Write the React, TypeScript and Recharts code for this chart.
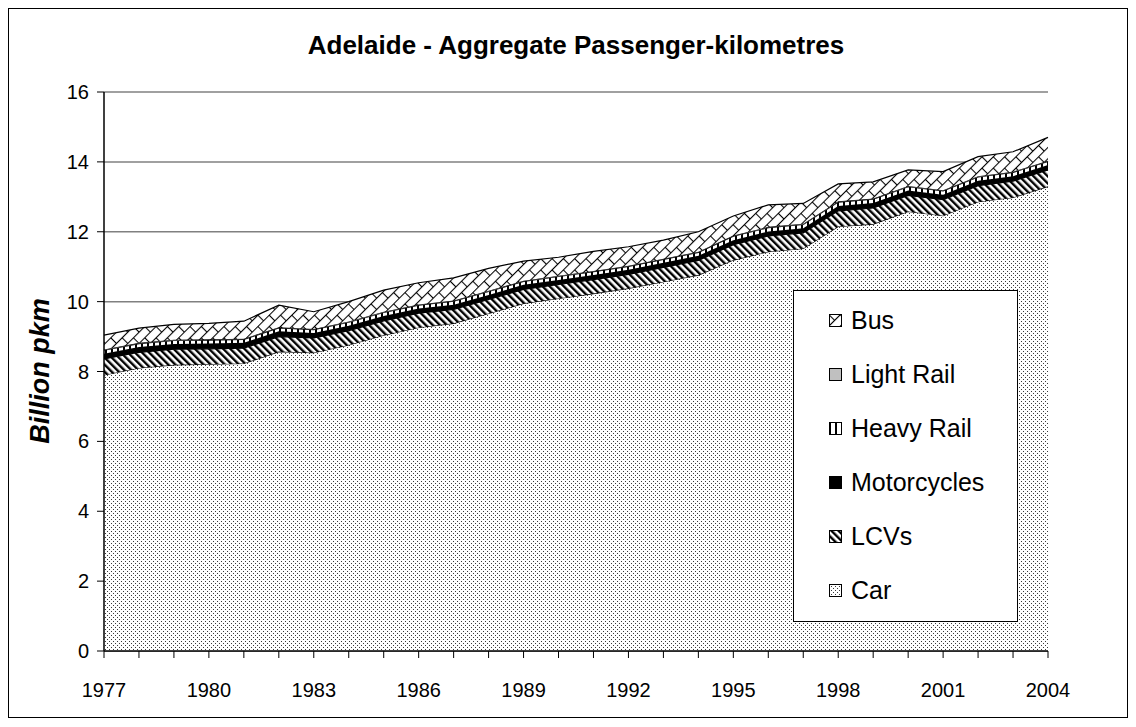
import { Area, AreaChart, CartesianGrid, XAxis, YAxis } from "recharts";

const years = [
  1977, 1978, 1979, 1980, 1981, 1982, 1983, 1984, 1985, 1986, 1987, 1988, 1989, 1990,
  1991, 1992, 1993, 1994, 1995, 1996, 1997, 1998, 1999, 2000, 2001, 2002, 2003, 2004
];
const car = [
  7.9, 8.1, 8.19, 8.21, 8.23, 8.57, 8.54, 8.76, 9.04, 9.26, 9.38, 9.66, 9.95, 10.09,
  10.23, 10.38, 10.57, 10.76, 11.19, 11.43, 11.52, 12.15, 12.22, 12.58, 12.46, 12.86, 12.98, 13.3
];
const lcvs = [
  0.46, 0.45, 0.45, 0.44, 0.44, 0.43, 0.42, 0.41, 0.41, 0.41, 0.4, 0.4, 0.4, 0.4,
  0.4, 0.4, 0.41, 0.42, 0.44, 0.45, 0.45, 0.45, 0.46, 0.46, 0.46, 0.46, 0.47, 0.47
];
const motorcycles = [
  0.15, 0.15, 0.15, 0.15, 0.15, 0.15, 0.14, 0.14, 0.14, 0.13, 0.13, 0.13, 0.13, 0.13,
  0.13, 0.13, 0.13, 0.13, 0.13, 0.13, 0.13, 0.14, 0.14, 0.14, 0.14, 0.14, 0.14, 0.14
];
const heavyRail = [
  0.1, 0.1, 0.1, 0.1, 0.1, 0.1, 0.1, 0.1, 0.1, 0.1, 0.1, 0.1, 0.1, 0.1,
  0.1, 0.1, 0.1, 0.1, 0.11, 0.11, 0.11, 0.11, 0.11, 0.11, 0.11, 0.11, 0.11, 0.1
];
const lightRail = [
  0.02, 0.02, 0.02, 0.02, 0.02, 0.02, 0.02, 0.02, 0.02, 0.02, 0.02, 0.02, 0.02, 0.02,
  0.02, 0.02, 0.02, 0.02, 0.02, 0.02, 0.02, 0.02, 0.02, 0.02, 0.02, 0.02, 0.02, 0.02
];
const bus = [
  0.41, 0.42, 0.44, 0.46, 0.5, 0.63, 0.49, 0.57, 0.62, 0.62, 0.65, 0.64, 0.56, 0.53,
  0.56, 0.54, 0.53, 0.57, 0.56, 0.63, 0.58, 0.5, 0.48, 0.46, 0.53, 0.56, 0.57, 0.67
];

const labelYears = [1977, 1980, 1983, 1986, 1989, 1992, 1995, 1998, 2001, 2004];
const yTicks = [0, 2, 4, 6, 8, 10, 12, 14, 16];

const data = years.map((year, i) => ({
  year,
  car: car[i],
  lcvs: lcvs[i],
  motorcycles: motorcycles[i],
  heavyRail: heavyRail[i],
  lightRail: lightRail[i],
  bus: bus[i]
}));

// bottom to top
const series = [
  { key: "car", name: "Car", fill: "url(#pCar)" },
  { key: "lcvs", name: "LCVs", fill: "url(#pLcv)" },
  { key: "motorcycles", name: "Motorcycles", fill: "#000" },
  { key: "heavyRail", name: "Heavy Rail", fill: "url(#pHeavy)" },
  { key: "lightRail", name: "Light Rail", fill: "#c0c0c0" },
  { key: "bus", name: "Bus", fill: "url(#pBus)" }
];

const font = '"Liberation Sans", Arial, sans-serif';

function Patterns() {
  return (
    <defs>
      <pattern id="pCar" width="4" height="4" patternUnits="userSpaceOnUse">
        <rect width="4" height="4" fill="#fff" />
        <rect x="0" y="0" width="1" height="1" fill="#3a3a3a" />
        <rect x="2" y="2" width="1" height="1" fill="#3a3a3a" />
      </pattern>
      <pattern id="pLcv" width="5" height="5" patternUnits="userSpaceOnUse" patternTransform="rotate(-45)">
        <rect width="5" height="5" fill="#fff" />
        <rect x="0" y="0" width="2.4" height="5" fill="#000" />
      </pattern>
      <pattern id="pHeavy" width="6" height="6" patternUnits="userSpaceOnUse">
        <rect width="6" height="6" fill="#fff" />
        <rect x="0" y="0" width="2" height="6" fill="#000" />
      </pattern>
      <pattern id="pBus" width="16" height="16" patternUnits="userSpaceOnUse" patternTransform="rotate(45)">
        <rect width="16" height="16" fill="#fff" />
        <line x1="0.5" y1="0" x2="0.5" y2="16" stroke="#000" strokeWidth="1.1" />
        <line x1="8.5" y1="0" x2="8.5" y2="16" stroke="#000" strokeWidth="1.1" />
        <line x1="0" y1="0.5" x2="8" y2="0.5" stroke="#000" strokeWidth="1.1" />
        <line x1="8" y1="8.5" x2="16" y2="8.5" stroke="#000" strokeWidth="1.1" />
      </pattern>
    </defs>
  );
}

function YearTick({ x, y, payload }: { x: number; y: number; payload: { value: number } }) {
  if (!labelYears.includes(payload.value)) return <g />;
  return (
    <text x={x} y={y} dy={37} textAnchor="middle" fill="#000" fontSize={20} fontFamily={font}>
      {payload.value}
    </text>
  );
}

function LegendBox() {
  const items = [...series].reverse();
  return (
    <div
      style={{
        position: "absolute",
        left: 784,
        top: 281,
        width: 225,
        height: 332,
        border: "1px solid #000",
        boxSizing: "border-box",
        background: "#fff",
        fontFamily: font,
        fontSize: 25,
        color: "#000"
      }}
    >
      {items.map((s, i) => (
        <div
          key={s.key}
          style={{ position: "absolute", left: 35, top: 11 + i * 54, height: 36, display: "flex", alignItems: "center" }}
        >
          <svg width={13} height={13} style={{ marginRight: 9 }}>
            <rect x={0.5} y={0.5} width={12} height={12} fill={s.fill} stroke="#000" strokeWidth={1} />
          </svg>
          <span>{s.name}</span>
        </div>
      ))}
    </div>
  );
}

export default function App() {
  return (
    <div
      style={{
        position: "relative",
        width: 1120,
        height: 710,
        border: "1px solid #000",
        boxSizing: "border-box",
        background: "#fff",
        fontFamily: font
      }}
    >
      <div
        style={{
          position: "absolute",
          left: 8,
          top: 20,
          width: 1118,
          textAlign: "center",
          fontSize: 26,
          fontWeight: "bold",
          lineHeight: "32px"
        }}
      >
        Adelaide - Aggregate Passenger-kilometres
      </div>
      <div
        style={{
          position: "absolute",
          left: 31 - 100,
          top: 362 - 16,
          width: 200,
          height: 32,
          lineHeight: "32px",
          textAlign: "center",
          transform: "rotate(-90deg)",
          fontSize: 27,
          fontWeight: "bold",
          fontStyle: "italic"
        }}
      >
        Billion pkm
      </div>
      <AreaChart
        width={1118}
        height={708}
        data={data}
        margin={{ top: 83, right: 79, bottom: 36, left: 35 }}
        style={{ position: "absolute", left: 0, top: 0 }}
      >
        <Patterns />
        <CartesianGrid vertical={false} stroke="#808080" strokeWidth={1.5} />
        <XAxis
          dataKey="year"
          interval={0}
          height={30}
          tick={YearTick}
          tickSize={7}
          tickLine={{ stroke: "#000" }}
          axisLine={{ stroke: "#000", strokeWidth: 1.5 }}
        />
        <YAxis
          domain={[0, 16]}
          ticks={yTicks}
          width={60}
          tickSize={7}
          tickMargin={8}
          tick={{ fill: "#000", fontSize: 20, fontFamily: font }}
          tickLine={{ stroke: "#000" }}
          axisLine={{ stroke: "#000", strokeWidth: 1.5 }}
        />
        <YAxis
          yAxisId="right"
          orientation="right"
          domain={[0, 16]}
          width={0}
          tick={false}
          tickLine={false}
          axisLine={{ stroke: "#808080", strokeWidth: 1.5 }}
        />
        {series.map((s) => (
          <Area
            key={s.key}
            type="linear"
            dataKey={s.key}
            name={s.name}
            stackId="1"
            fill={s.fill}
            fillOpacity={1}
            stroke="#000"
            strokeWidth={1.2}
            isAnimationActive={false}
            dot={false}
            activeDot={false}
          />
        ))}
      </AreaChart>
      <LegendBox />
    </div>
  );
}
